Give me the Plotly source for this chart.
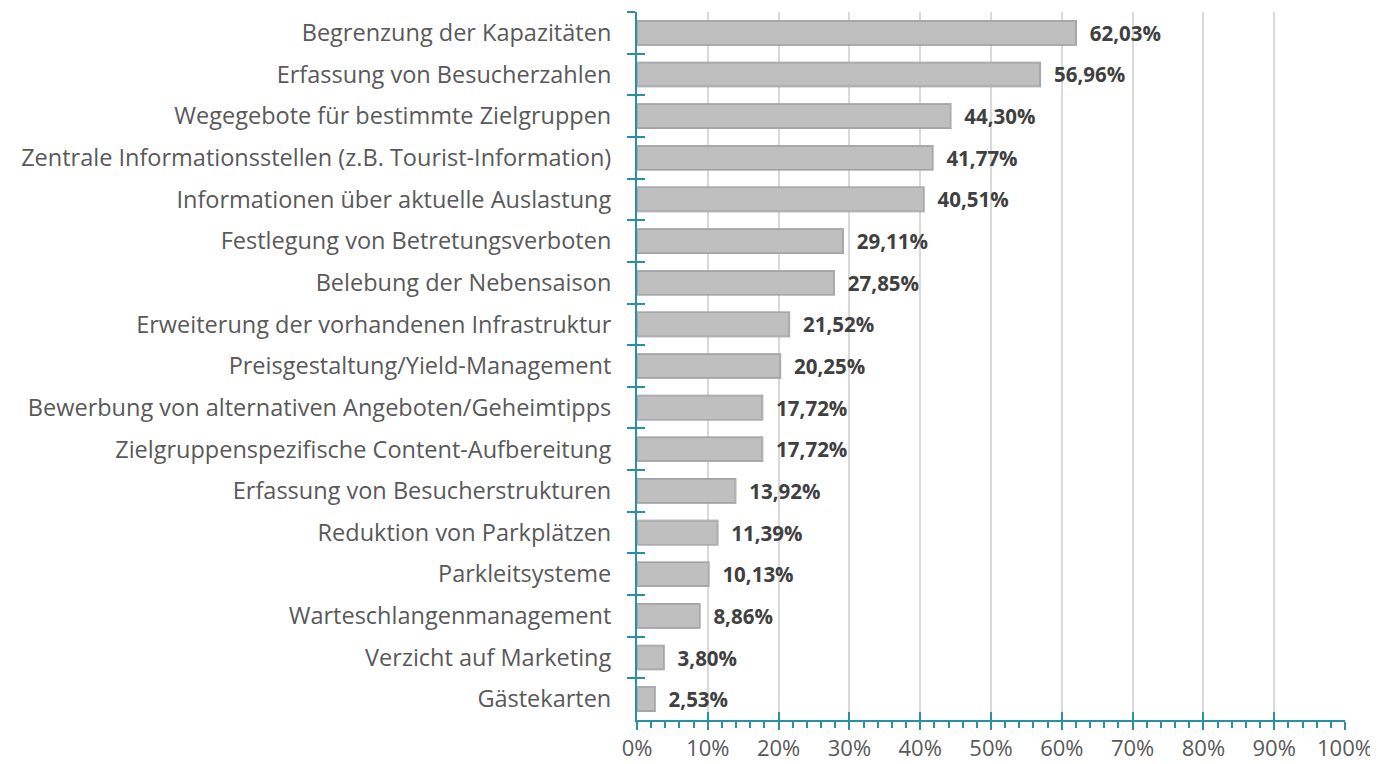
import plotly.graph_objects as go

categories = [
    "Begrenzung der Kapazitäten",
    "Erfassung von Besucherzahlen",
    "Wegegebote für bestimmte Zielgruppen",
    "Zentrale Informationsstellen (z.B. Tourist-Information)",
    "Informationen über aktuelle Auslastung",
    "Festlegung von Betretungsverboten",
    "Belebung der Nebensaison",
    "Erweiterung der vorhandenen Infrastruktur",
    "Preisgestaltung/Yield-Management",
    "Bewerbung von alternativen Angeboten/Geheimtipps",
    "Zielgruppenspezifische Content-Aufbereitung",
    "Erfassung von Besucherstrukturen",
    "Reduktion von Parkplätzen",
    "Parkleitsysteme",
    "Warteschlangenmanagement",
    "Verzicht auf Marketing",
    "Gästekarten",
]
values = [62.03, 56.96, 44.30, 41.77, 40.51, 29.11, 27.85, 21.52, 20.25,
          17.72, 17.72, 13.92, 11.39, 10.13, 8.86, 3.80, 2.53]
tick_vals = [0, 10, 20, 30, 40, 50, 60, 70, 80, 90, 100]
tick_text = [f"{v}%" for v in tick_vals]

TEAL = "#2a90a4"
FONT = "Open Sans"

fig = go.Figure()
fig.add_trace(go.Bar(
    x=values, y=categories, orientation="h",
    marker=dict(color="#bfbfbf", line=dict(color="#7f7f7f", width=1.5)),
    texttemplate="  %{x:.2f}%", textposition="outside", cliponaxis=False,
    constraintext="none",
    textfont=dict(family=FONT, size=20.5, color="#404040", weight="bold"),
    hoverinfo="skip",
))

# the page body adds an 8px offset, so the figure is sized/margined to compensate
fig.update_layout(
    width=1370, height=756,
    margin=dict(l=629, r=33, t=4, b=44, autoexpand=False),
    plot_bgcolor="white", paper_bgcolor="white",
    separators=",.",
    bargap=0.42,
    showlegend=False,
    font=dict(family=FONT, color="#595959"),
    xaxis=dict(
        range=[0, 100], tickvals=tick_vals, ticktext=tick_text,
        showgrid=True, gridcolor="#d9d9d9", gridwidth=2,
        showline=True, linecolor=TEAL, linewidth=2,
        ticks="outside", ticklen=8, tickcolor=TEAL, tickwidth=2,
        minor=dict(dtick=2, tick0=0, ticks="outside", ticklen=6, tickcolor=TEAL, tickwidth=1.5, showgrid=False),
        tickfont=dict(family=FONT, size=22, color="#595959"),
        ticklabelstandoff=0,
        zeroline=False, fixedrange=True, automargin=False,
    ),
    xaxis2=dict(
        range=[0, 100], overlaying="x", side="bottom", anchor="y",
        tickvals=tick_vals, showticklabels=False, showgrid=False,
        ticks="inside", ticklen=8, tickcolor=TEAL, tickwidth=2,
        showline=False, zeroline=False, automargin=False,
    ),
    yaxis=dict(
        categoryorder="array", categoryarray=categories,
        range=[len(categories) - 0.5, -0.5],
        showline=True, linecolor=TEAL, linewidth=2,
        ticks="outside", tickson="boundaries", ticklen=8, tickcolor=TEAL, tickwidth=2,
        tickfont=dict(family=FONT, size=23.5, color="#595959"),
        ticklabelstandoff=19,
        showgrid=False, zeroline=False, automargin=False,
    ),
    yaxis2=dict(
        type="category", categoryorder="array", categoryarray=categories,
        range=[len(categories) - 0.5, -0.5], overlaying="y", side="left", anchor="x",
        ticks="inside", tickson="boundaries", ticklen=8, tickcolor=TEAL, tickwidth=2,
        showticklabels=False, showgrid=False, showline=False, zeroline=False,
        automargin=False,
    ),
)

# invisible helper trace so the secondary axes (crossing ticks) are drawn
fig.add_trace(go.Bar(x=values, y=categories, orientation="h", xaxis="x2", yaxis="y2",
                     marker=dict(color="rgba(0,0,0,0)"), hoverinfo="skip", showlegend=False))

fig.write_html("out.html")
